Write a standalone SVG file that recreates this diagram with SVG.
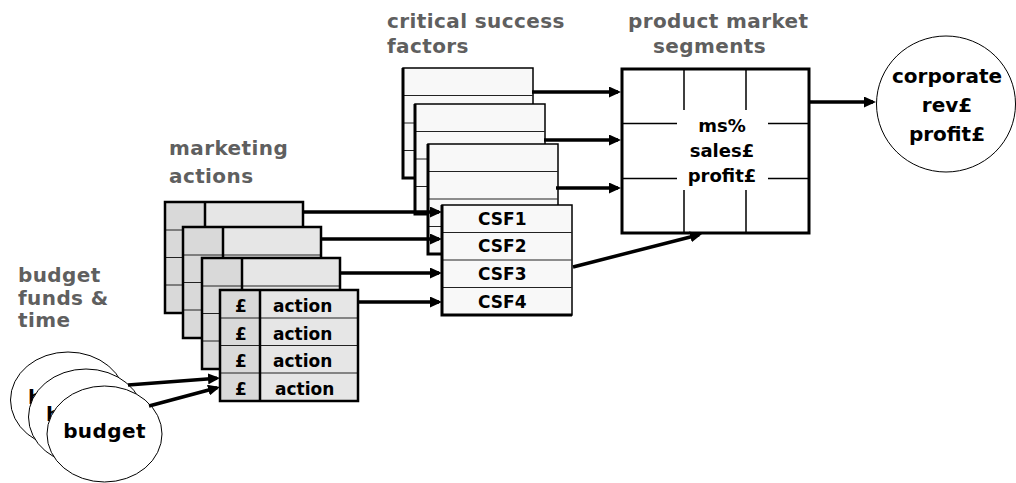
<svg xmlns="http://www.w3.org/2000/svg" xmlns:xlink="http://www.w3.org/1999/xlink" width="1016" height="483" viewBox="0 0 1016 483">
<style>
text{font-family:"DejaVu Sans","Verdana",sans-serif;font-weight:bold}
.lbl{fill:#5f5f5f;font-size:20px;letter-spacing:0.4px}
.t17{fill:#000;font-size:17px}
.t18{fill:#000;font-size:18px}
.t20{fill:#000;font-size:20px}
.mid{text-anchor:middle}
.conn line{stroke:#000;stroke-width:3.5;marker-end:url(#ah)}
.oval{fill:#fff;stroke:#000;stroke-width:1}
</style>
<defs>
<marker id="ah" markerUnits="userSpaceOnUse" markerWidth="12" markerHeight="11" refX="9" refY="5.5" orient="auto">
<path d="M0,0 L12,5.5 L0,11 z" fill="#000"/>
</marker>
<g id="actTable">
<rect x="0" y="0" width="138" height="111" fill="#e6e6e6"/>
<rect x="0" y="0" width="40" height="111" fill="#d9d9d9"/>
<path d="M0,28 H138 M0,55.5 H138 M0,83 H138" stroke="#222" stroke-width="1"/>
<path d="M40,0 V111" stroke="#000" stroke-width="2.5"/>
<rect x="0" y="0" width="138" height="111" fill="none" stroke="#000" stroke-width="2.5"/>
</g>
<g id="csfTable">
<rect x="0" y="0" width="130" height="110" fill="#f8f8f8" stroke="#000" stroke-width="1.5"/>
<path d="M0,27.5 H130 M0,55 H130 M0,82.5 H130" stroke="#222" stroke-width="1"/>
<path d="M0,0 V110 H130" fill="none" stroke="#000" stroke-width="3"/>
</g>
</defs>
<rect width="1016" height="483" fill="#fff"/>

<g id="labels">
<text class="lbl" x="18" y="282">budget</text>
<text class="lbl" x="18" y="305">funds &amp;</text>
<text class="lbl" x="18" y="327">time</text>
<text class="lbl" x="169" y="155">marketing</text>
<text class="lbl" x="169" y="183">actions</text>
<text class="lbl" x="387" y="28">critical success</text>
<text class="lbl" x="387" y="53">factors</text>
<text class="lbl" x="628" y="28">product market</text>
<text class="lbl" x="653" y="53">segments</text>
</g>

<g id="budget1">
<ellipse class="oval" cx="68" cy="400" rx="57.5" ry="48"/>
<text class="t20" x="28" y="404">b</text>
</g>
<g id="budget2">
<ellipse class="oval" cx="86" cy="417" rx="57.5" ry="48"/>
<text class="t20" x="46" y="421">b</text>
</g>
<g id="budget3">
<ellipse class="oval" cx="104.5" cy="434" rx="57.5" ry="48"/>
<text class="t20 mid" x="104.5" y="438" letter-spacing="0.4">budget</text>
</g>

<g id="actions1" transform="translate(165,202)"><use xlink:href="#actTable"/></g>
<g id="actions2" transform="translate(183,227)"><use xlink:href="#actTable"/></g>
<g id="actions3" transform="translate(202,258)"><use xlink:href="#actTable"/></g>
<g id="actions4" transform="translate(220,290)">
<use xlink:href="#actTable"/>
<text class="t17 mid" x="21" y="22">£</text>
<text class="t17" x="53" y="22">action</text>
<text class="t17 mid" x="21" y="50">£</text>
<text class="t17" x="53" y="50">action</text>
<text class="t17 mid" x="21" y="77">£</text>
<text class="t17" x="53" y="77">action</text>
<text class="t17 mid" x="21" y="105">£</text>
<text class="t17" x="55" y="105">action</text>
</g>

<g id="csfA" transform="translate(403,68)"><use xlink:href="#csfTable"/></g>
<g id="csfB" transform="translate(415,104)"><use xlink:href="#csfTable"/></g>
<g id="csfC" transform="translate(428,144)"><use xlink:href="#csfTable"/></g>
<g id="csfD" transform="translate(442,205)">
<use xlink:href="#csfTable"/>
<text class="t17" x="36" y="20">CSF1</text>
<text class="t17" x="36" y="47">CSF2</text>
<text class="t17" x="36" y="75">CSF3</text>
<text class="t17" x="36" y="103">CSF4</text>
</g>

<g id="segments">
<rect x="622" y="69" width="187" height="164" fill="#fff" stroke="#000" stroke-width="3"/>
<path d="M684,69 V233 M746,69 V233 M622,123.5 H809 M622,178.5 H809" stroke="#000" stroke-width="1.5"/>
<rect x="677" y="110" width="91" height="80" fill="#fff"/>
<text class="t18 mid" x="722" y="132">ms%</text>
<text class="t18 mid" x="722" y="157">sales£</text>
<text class="t18 mid" x="722" y="182">profit£</text>
</g>

<g id="corporate">
<ellipse class="oval" cx="946" cy="104" rx="69.5" ry="68"/>
<text class="t20 mid" x="947" y="83">corporate</text>
<text class="t20 mid" x="947" y="112">rev£</text>
<text class="t20 mid" x="947" y="141">profit£</text>
</g>

<g id="connectors" class="conn">
<line x1="303" y1="212" x2="439" y2="212"/>
<line x1="322" y1="239" x2="439" y2="239"/>
<line x1="340" y1="273" x2="439" y2="273"/>
<line x1="358" y1="302" x2="439" y2="302"/>
<line x1="532" y1="92" x2="618" y2="92"/>
<line x1="544" y1="140" x2="618" y2="140"/>
<line x1="556" y1="188" x2="618" y2="188"/>
<line x1="573" y1="267" x2="699.1" y2="234.7"/>
<line x1="809" y1="102" x2="873" y2="102"/>
<line x1="128" y1="385" x2="217" y2="378.2"/>
<line x1="149" y1="406" x2="217.1" y2="387.8"/>
</g>
</svg>
